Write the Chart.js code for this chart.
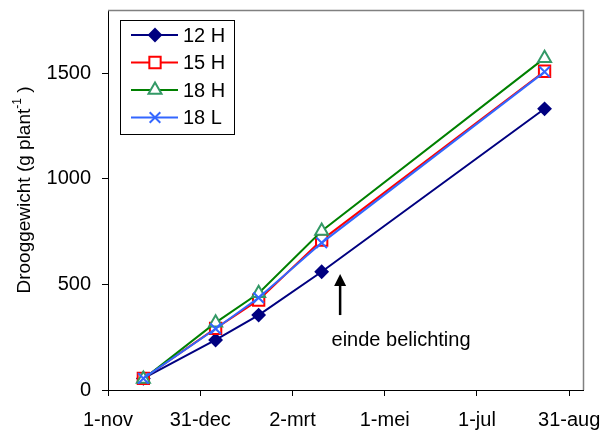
<!DOCTYPE html>
<html>
<head>
<meta charset="utf-8">
<script src="https://cdn.jsdelivr.net/npm/chart.js@4/dist/chart.umd.min.js"></script>
<style>
  body { margin: 0; background: #fff; }
  #wrap { width: 601px; height: 430px; }
</style>
</head>
<body>
<div id="wrap"><canvas id="groei" width="601" height="430"></canvas></div>
<script>
// dagen na 1-nov
const days = [23, 70, 98, 139, 284];
const h12 = [55, 237, 355, 560, 1332];
const h15 = [55, 292, 426, 710, 1510];
const h18 = [52, 319, 458, 753, 1572];
const l18 = [55, 290, 437, 697, 1507];
const seriesNames = ['12 H', '15 H', '18 H', '18 L'];
const xTickDays = [0, 60, 120, 180, 240, 300];
const xTickLabels = ['1-nov', '31-dec', '2-mrt', '1-mei', '1-jul', '31-aug'];
const yTicks = [0, 500, 1000, 1500];

const FONT = "'Liberation Sans', Arial, sans-serif";

const pts = (ys) => days.map((d, i) => ({ x: d, y: ys[i] }));

const styles = [
  { line: '#000080', mark: '#000080', fill: '#000080', shape: 'rectRot', r: 6 },
  { line: '#FF0000', mark: '#FF0000', fill: '#FFFFFF', shape: 'rect', r: 8 },
  { line: '#008000', mark: '#339966', fill: '#FFFFFF', shape: 'triangle', r: 7.5 },
  { line: '#3366FF', mark: '#3366FF', fill: '#FFFFFF', shape: 'crossRot', r: 7.5 }
];
const allData = [h12, h15, h18, l18];

function marker(ctx, s, x, y) {
  ctx.save();
  ctx.strokeStyle = s.mark;
  ctx.fillStyle = s.fill;
  ctx.lineWidth = 2;
  ctx.beginPath();
  if (s.shape === 'rectRot') {
    ctx.moveTo(x, y - s.r); ctx.lineTo(x + s.r, y); ctx.lineTo(x, y + s.r); ctx.lineTo(x - s.r, y);
    ctx.closePath(); ctx.fill(); ctx.stroke();
  } else if (s.shape === 'rect') {
    const h = s.r * Math.SQRT1_2;
    ctx.rect(x - h, y - h, 2 * h, 2 * h); ctx.fill(); ctx.stroke();
  } else if (s.shape === 'triangle') {
    for (let k = 0; k < 3; k++) {
      const a = k * 2 * Math.PI / 3;
      const px = x + Math.sin(a) * s.r, py = y - Math.cos(a) * s.r;
      k ? ctx.lineTo(px, py) : ctx.moveTo(px, py);
    }
    ctx.closePath(); ctx.fill(); ctx.stroke();
  } else {
    const h = s.r * Math.SQRT1_2;
    ctx.moveTo(x - h, y - h); ctx.lineTo(x + h, y + h);
    ctx.moveTo(x + h, y - h); ctx.lineTo(x - h, y + h);
    ctx.stroke();
  }
  ctx.restore();
}

// legenda, kader, aslabel en pijl
const extras = {
  id: 'extras',
  afterDraw(chart) {
    const ctx = chart.ctx;
    const a = chart.chartArea;
    const xs = chart.scales.x, ys = chart.scales.y;
    ctx.save();
    // grijze rand boven/rechts
    ctx.strokeStyle = '#808080';
    ctx.lineWidth = 1.5;
    ctx.beginPath();
    ctx.moveTo(a.left, a.top + 0.5);
    ctx.lineTo(a.right + 0.5, a.top + 0.5);
    ctx.lineTo(a.right + 0.5, a.bottom);
    ctx.stroke();

    // legenda
    const bx = a.left + 12, by = a.top + 10, bw = 114, bh = 114;
    ctx.fillStyle = '#fff';
    ctx.fillRect(bx, by, bw, bh);
    ctx.strokeStyle = '#000';
    ctx.lineWidth = 1;
    ctx.strokeRect(bx + 0.5, by + 0.5, bw, bh);
    ctx.font = '20px ' + FONT;
    ctx.textBaseline = 'middle';
    ctx.textAlign = 'left';
    seriesNames.forEach((nm, i) => {
      const y = by + 15 + i * 27.5;
      const s = styles[i];
      ctx.strokeStyle = s.line;
      ctx.lineWidth = 2;
      ctx.beginPath();
      ctx.moveTo(bx + 11, y);
      ctx.lineTo(bx + 58, y);
      ctx.stroke();
      marker(ctx, s, bx + 35, y);
      ctx.fillStyle = '#000';
      ctx.fillText(nm, bx + 63, y + 1);
    });

    // y-as titel met superscript
    ctx.save();
    ctx.translate(25, (a.top + a.bottom) / 2 - 10);
    ctx.rotate(-Math.PI / 2);
    const main = 'Drooggewicht (g plant';
    const sup = '-1';
    const tail = ' )';
    ctx.font = '19px ' + FONT;
    const w1 = ctx.measureText(main).width;
    const w3 = ctx.measureText(tail).width;
    ctx.font = '12px ' + FONT;
    const w2 = ctx.measureText(sup).width;
    let x0 = -(w1 + w2 + w3) / 2;
    ctx.fillStyle = '#000';
    ctx.textBaseline = 'middle';
    ctx.font = '19px ' + FONT;
    ctx.fillText(main, x0, 0);
    ctx.font = '12px ' + FONT;
    ctx.fillText(sup, x0 + w1, -7);
    ctx.font = '19px ' + FONT;
    ctx.fillText(tail, x0 + w1 + w2, 0);
    ctx.restore();

    // pijl "einde belichting"
    const ax = xs.getPixelForValue(151);
    const yTip = ys.getPixelForValue(549);
    const yEnd = ys.getPixelForValue(355);
    ctx.strokeStyle = '#000';
    ctx.fillStyle = '#000';
    ctx.lineWidth = 2.5;
    ctx.beginPath();
    ctx.moveTo(ax, yEnd);
    ctx.lineTo(ax, yTip + 10);
    ctx.stroke();
    ctx.beginPath();
    ctx.moveTo(ax, yTip);
    ctx.lineTo(ax - 6, yTip + 12);
    ctx.lineTo(ax + 6, yTip + 12);
    ctx.closePath();
    ctx.fill();
    ctx.font = '20px ' + FONT;
    ctx.textBaseline = 'middle';
    ctx.fillText('einde belichting', xs.getPixelForValue(145.4), ys.getPixelForValue(235));
    ctx.restore();
  }
};

const ctx = document.getElementById('groei').getContext('2d');
const groeiChart = new Chart(ctx, {
  type: 'line',
  data: {
    datasets: allData.map((ys, i) => ({
      label: seriesNames[i],
      data: pts(ys),
      borderColor: styles[i].line,
      borderWidth: 2,
      pointStyle: styles[i].shape,
      pointRadius: styles[i].r,
      pointBorderColor: styles[i].mark,
      pointBackgroundColor: styles[i].fill,
      pointBorderWidth: 2,
      tension: 0,
      order: 4 - i
    }))
  },
  options: {
    responsive: false,
    animation: false,
    events: [],
    layout: { padding: { top: 10, right: 18, left: 0, bottom: 0 } },
    plugins: { legend: { display: false }, tooltip: { enabled: false } },
    scales: {
      x: {
        type: 'linear',
        min: 0,
        max: 309,
        afterBuildTicks: (s) => { s.ticks = xTickDays.map(v => ({ value: v })); },
        afterFit: (s) => { s.height = 40; s.paddingLeft = 0; s.paddingRight = 0; },
        ticks: {
          autoSkip: false,
          maxRotation: 0,
          padding: 12,
          color: '#000',
          font: { family: FONT, size: 20 },
          callback: (v, i) => xTickLabels[i]
        },
        grid: { drawOnChartArea: false, tickLength: 6, color: '#000' },
        border: { color: '#000', width: 1 }
      },
      y: {
        min: 0,
        max: 1800,
        afterBuildTicks: (s) => { s.ticks = yTicks.map(v => ({ value: v })); },
        afterFit: (s) => { s.width = 108; s.paddingTop = 0; s.paddingBottom = 0; },
        ticks: {
          padding: 11,
          color: '#000',
          font: { family: FONT, size: 20 },
          callback: (v) => String(v)
        },
        grid: { drawOnChartArea: false, tickLength: 6, color: '#000' },
        border: { color: '#000', width: 1 }
      }
    }
  },
  plugins: [extras]
});
</script>
</body>
</html>
